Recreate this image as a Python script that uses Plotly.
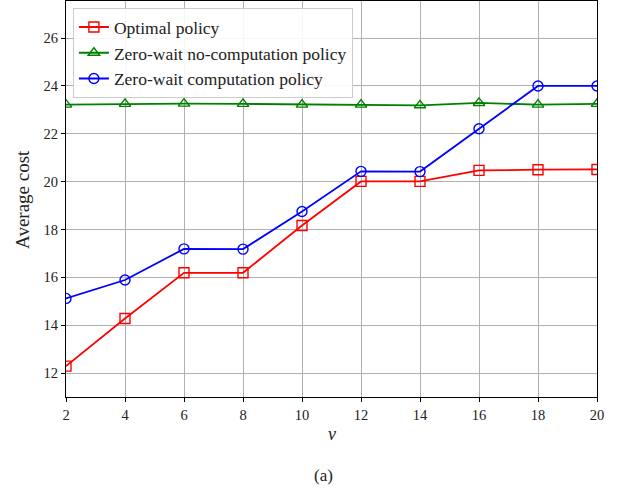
import plotly.graph_objects as go

v = [2, 4, 6, 8, 10, 12, 14, 16, 18, 20]
optimal = [12.29, 14.28, 16.19, 16.19, 18.17, 20.01, 20.01, 20.47, 20.50, 20.51]
zero_wait_nocomp = [23.22, 23.25, 23.26, 23.25, 23.22, 23.22, 23.19, 23.29, 23.22, 23.25]
zero_wait_comp = [15.12, 15.89, 17.19, 17.18, 18.75, 20.43, 20.42, 22.21, 24.0, 24.0]
x_ticks = [2, 4, 6, 8, 10, 12, 14, 16, 18, 20]
y_ticks = [12, 14, 16, 18, 20, 22, 24, 26]

FONT = "Liberation Serif"
TXT = "#222222"

fig = go.Figure()
fig.add_trace(go.Scatter(x=v, y=optimal, mode="lines+markers", name="Optimal policy",
                         line=dict(color="#ff0000", width=1.8),
                         marker=dict(symbol="square-open", size=10, color="#ff0000", line=dict(width=1.4))))
fig.add_trace(go.Scatter(x=v, y=zero_wait_nocomp, mode="lines+markers", name="Zero-wait no-computation policy",
                         line=dict(color="#008000", width=1.8),
                         marker=dict(symbol="triangle-up-open", size=10, color="#008000", line=dict(width=1.4))))
fig.add_trace(go.Scatter(x=v, y=zero_wait_comp, mode="lines+markers", name="Zero-wait computation policy",
                         line=dict(color="#0000ff", width=1.8),
                         marker=dict(symbol="circle-open", size=10, color="#0000ff", line=dict(width=1.4))))

axis_common = dict(showline=True, linecolor="black", linewidth=1.2, mirror=True,
                   showgrid=True, gridcolor="#b0b0b0", gridwidth=1,
                   ticks="outside", ticklen=4, tickcolor="black", zeroline=False,
                   tickfont=dict(family=FONT, size=14.5, color=TXT))

fig.update_xaxes(range=[2, 20], tickvals=x_ticks, **axis_common)
fig.update_yaxes(range=[11, 27.55], tickvals=y_ticks, **axis_common)

fig.update_layout(
    width=621, height=490,
    margin=dict(l=66, r=24, t=1, b=93),
    paper_bgcolor="white", plot_bgcolor="white",
    font=dict(family=FONT, color=TXT),
    legend=dict(x=0.013, y=0.982, xanchor="left", yanchor="top",
                bgcolor="rgba(255,255,255,0.9)", bordercolor="#cccccc", borderwidth=1,
                font=dict(family=FONT, size=17.5, color=TXT), tracegroupgap=0),
    annotations=[
        dict(text="Average cost", xref="paper", yref="paper", x=-0.083, y=0.5,
             xanchor="center", yanchor="middle", textangle=-90, showarrow=False,
             font=dict(family=FONT, size=19, color=TXT)),
        dict(text="<i>v</i>", xref="paper", yref="paper", x=0.5, y=-0.093,
             xanchor="center", yanchor="middle", showarrow=False,
             font=dict(family=FONT, size=18, color=TXT)),
        dict(text="(a)", xref="paper", yref="paper", x=0.484, y=-0.197,
             xanchor="center", yanchor="middle", showarrow=False,
             font=dict(family=FONT, size=17, color=TXT)),
    ],
)

fig.write_html("out.html", config={"displayModeBar": False},
               post_script="document.body.style.margin='0';")
